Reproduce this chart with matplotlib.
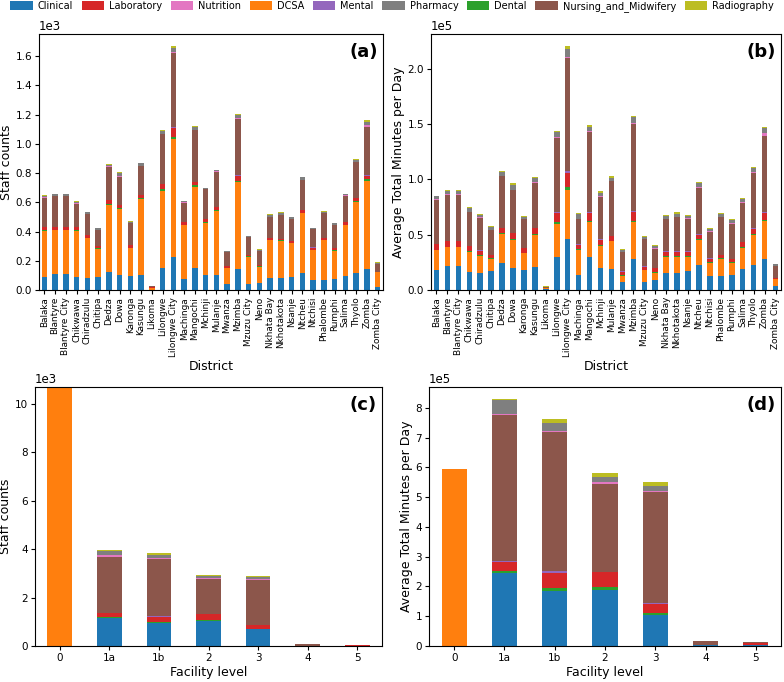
import matplotlib
matplotlib.use('Agg')
import matplotlib.pyplot as plt
import numpy as np
from matplotlib.patches import Patch

districts = ['Balaka', 'Blantyre', 'Blantyre City', 'Chikwawa', 'Chiradzulu', 'Chitipa', 'Dedza',
             'Dowa', 'Karonga', 'Kasungu', 'Likoma', 'Lilongwe', 'Lilongwe City', 'Machinga',
             'Mangochi', 'Mchinji', 'Mulanje', 'Mwanza', 'Mzimba', 'Mzuzu City', 'Neno',
             'Nkhata Bay', 'Nkhotakota', 'Nsanje', 'Ntcheu', 'Ntchisi', 'Phalombe', 'Rumphi',
             'Salima', 'Thyolo', 'Zomba', 'Zomba City']
levels = ['0', '1a', '1b', '2', '3', '4', '5']
categories = ['Clinical', 'DCSA', 'Dental', 'Laboratory', 'Mental', 'Nursing_and_Midwifery',
              'Nutrition', 'Pharmacy', 'Radiography']
legend_order = ['Clinical', 'Laboratory', 'Nutrition', 'DCSA', 'Mental', 'Pharmacy', 'Dental',
                'Nursing_and_Midwifery', 'Radiography']

# (a) staff counts by district
a_clinical = [91,109,110,88,84,91,125,103,95,103,3,148,223,73,153,103,103,39,144,41,50,84,84,89,114,68,68,73,96,114,144,23]
a_dcsa = [315,301,300,318,269,190,455,452,190,522,14,532,809,371,553,357,439,109,596,187,110,258,253,230,410,205,274,197,348,490,604,97]
a_dental = [3,3,3,3,3,3,5,4,3,4,0,8,14,3,10,4,4,2,8,2,2,3,3,3,5,3,3,3,4,4,8,1]
a_lab = [19,20,20,19,20,18,28,20,17,20,1,37,62,20,24,19,19,14,34,10,9,8,10,13,18,14,8,12,19,19,26,4]
a_mental = [1,1,1,1,1,1,2,1,1,1,0,3,4,1,2,1,1,1,3,1,1,1,1,1,1,1,1,1,1,1,2,1]
a_nursing = [203,210,210,161,140,107,228,196,149,198,8,339,508,129,352,204,244,93,385,119,97,146,162,149,204,126,170,158,175,249,333,54]
a_nutrition = [2,2,2,2,2,2,3,3,2,3,0,3,5,2,3,2,2,1,4,1,1,2,2,2,3,1,2,2,4,2,11,1]
a_pharmacy = [11,8,8,12,12,10,10,22,9,15,1,17,30,9,18,8,6,6,20,6,6,12,12,10,15,6,10,10,9,10,22,5]
a_radiography = [4,3,3,4,4,4,4,8,4,6,0,6,13,4,7,3,3,2,7,3,2,5,4,4,6,2,4,4,4,4,12,3]

# (b) average total minutes per day by district
b_clinical = [18000,21800,22000,16700,15800,17600,24800,20300,18200,21200,500,30300,46000,13600,30300,19700,19000,7000,28200,7600,9400,15800,15800,17600,22700,12700,12700,13600,18800,22700,28500,4000]
b_dcsa = [17800,16700,16500,18100,15100,10300,26100,25200,15100,28800,900,29700,44900,22800,31200,20300,24900,6000,33600,10400,6400,14500,14500,12700,22800,12100,15500,11200,19100,27300,34200,5700]
b_dental = [700,800,800,700,700,700,800,800,600,1000,0,1200,2100,800,1000,800,800,400,1000,500,500,600,600,600,900,600,600,600,700,1000,1000,200]
b_lab = [5000,4700,4700,3900,3900,3200,4300,5200,3700,5000,300,8500,13000,3800,7200,4700,4300,3300,7800,2700,3300,3900,3900,3900,3600,3100,2700,2500,4400,4500,6000,1300]
b_mental = [300,300,300,300,300,300,400,400,300,400,0,500,1600,300,500,300,300,200,800,300,200,300,300,300,300,200,300,300,300,400,500,100]
b_nursing = [40000,42000,42000,30600,29400,21900,46500,38400,26000,40800,1200,67700,102400,22900,72800,38400,49100,17300,79200,24600,17500,29100,30700,29400,42100,24000,34000,31800,35500,50100,69200,10500]
b_nutrition = [400,400,400,400,400,400,500,600,400,500,0,700,800,400,700,500,500,300,900,300,300,400,400,400,500,400,400,500,1200,600,2700,300]
b_pharmacy = [2400,2800,2800,3500,2200,2700,3000,3800,2200,3400,200,4200,7600,4200,4000,3500,2700,2000,5000,1800,2100,2400,3000,2500,3500,2300,2700,2800,2500,3500,4800,1000]
b_radiography = [900,1000,1000,1300,1000,1200,1200,2100,900,1500,100,1200,2200,1000,1800,1200,1200,600,1100,600,700,900,1000,900,1300,600,900,800,900,1200,800,300]

# (c) staff counts by facility level
c_clinical = [0,1170,950,1050,690,10,5]
c_dcsa = [10700,0,0,0,0,0,0]
c_dental = [0,40,40,30,30,0,0]
c_lab = [0,150,220,230,130,5,20]
c_mental = [0,20,20,10,10,0,0]
c_nursing = [0,2300,2370,1440,1870,60,25]
c_nutrition = [0,60,30,40,20,0,5]
c_pharmacy = [0,200,140,90,80,5,5]
c_radiography = [0,30,70,60,60,0,0]

# (d) average total minutes per day by facility level
d_clinical = [0,247000,184000,189000,104000,2000,3000]
d_dcsa = [596000,0,0,0,0,0,0]
d_dental = [0,6000,11000,9000,8000,0,0]
d_lab = [0,29000,52000,51000,29000,500,7000]
d_mental = [0,2000,5000,1000,4000,0,0]
d_nursing = [0,491000,468000,294000,374000,14000,3000]
d_nutrition = [0,5000,3000,8000,1000,0,0]
d_pharmacy = [0,47000,27000,16000,17000,500,1000]
d_radiography = [0,2000,14000,12000,15000,0,1000]

colors = {cat: f'C{i}' for i, cat in enumerate(categories)}

W, H = 784, 682
fig = plt.figure(figsize=(W / 100, H / 100), dpi=100)

def px_axes(left, right, top, bottom):
    return fig.add_axes([left / W, 1 - bottom / H, (right - left) / W, (bottom - top) / H])

ax_a = px_axes(39, 383, 34, 290)
ax_b = px_axes(431, 781, 34, 290)
ax_c = px_axes(35, 382, 387, 646)
ax_d = px_axes(429, 781, 387, 646)

def stacked(ax, labels, series, exp, ylabel, xlabel, tag):
    x = np.arange(len(labels))
    bottom = np.zeros(len(labels))
    for cat, vals in zip(categories, series):
        vals = np.asarray(vals, dtype=float)
        ax.bar(x, vals, 0.5, bottom=bottom, color=colors[cat], label=cat)
        bottom += vals
    ax.set_xlim(-0.5, len(labels) - 0.5)
    ax.set_xticks(x)
    ax.ticklabel_format(axis='y', style='sci', scilimits=(exp, exp))
    ax.yaxis.get_offset_text().set_fontsize(8.5)
    ax.tick_params(labelsize=7.5, length=3, pad=2)
    ax.set_ylabel(ylabel, fontsize=9, labelpad=2)
    ax.set_xlabel(xlabel, fontsize=9, labelpad=2)
    ax.text(0.985, 0.965, tag, transform=ax.transAxes, ha='right', va='top',
            fontsize=13, fontweight='bold')
    return x

stacked(ax_a, districts,
        [a_clinical, a_dcsa, a_dental, a_lab, a_mental, a_nursing, a_nutrition, a_pharmacy, a_radiography],
        3, 'Staff counts', 'District', '(a)')
ax_a.set_xticklabels(districts, rotation=90, fontsize=6.4)

stacked(ax_b, districts,
        [b_clinical, b_dcsa, b_dental, b_lab, b_mental, b_nursing, b_nutrition, b_pharmacy, b_radiography],
        5, 'Average Total Minutes per Day', 'District', '(b)')
ax_b.set_xticklabels(districts, rotation=90, fontsize=6.4)

stacked(ax_c, levels,
        [c_clinical, c_dcsa, c_dental, c_lab, c_mental, c_nursing, c_nutrition, c_pharmacy, c_radiography],
        3, 'Staff counts', 'Facility level', '(c)')
ax_c.set_xticklabels(levels)

stacked(ax_d, levels,
        [d_clinical, d_dcsa, d_dental, d_lab, d_mental, d_nursing, d_nutrition, d_pharmacy, d_radiography],
        5, 'Average Total Minutes per Day', 'Facility level', '(d)')
ax_d.set_xticklabels(levels)

handles = [Patch(facecolor=colors[c], label=c) for c in legend_order]
fig.legend(handles=handles, loc='upper center', bbox_to_anchor=(0.5, 1.004), ncol=9,
           frameon=False, fontsize=7.0, handlelength=2.3, handleheight=1.0, handletextpad=0.5,
           columnspacing=0.9, borderaxespad=0.2, borderpad=0.2)

fig.savefig('out.png', dpi=100)
